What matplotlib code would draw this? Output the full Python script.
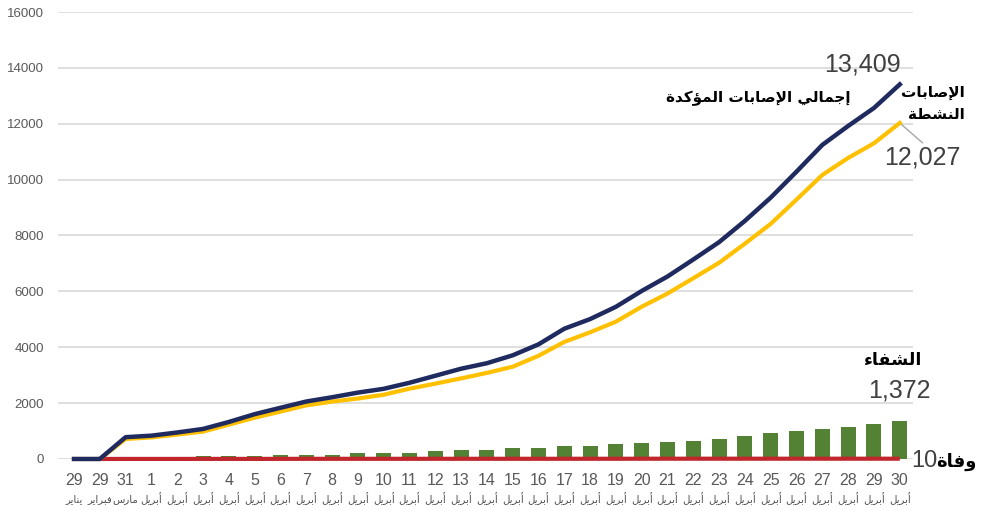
import numpy as np
import matplotlib.pyplot as plt

# Qatar COVID-19 cumulative figures
days = ['29', '29', '31'] + [str(d) for d in range(1, 31)]
months = ['يناير', 'فبراير', 'مارس'] + ['أبريل'] * 30

total = [0, 0, 781, 835, 949, 1075, 1325, 1604, 1832, 2057, 2210, 2376,
         2512, 2728, 2979, 3231, 3428, 3711, 4103, 4663, 5008, 5448, 6015,
         6533, 7141, 7764, 8525, 9358, 10287, 11244, 11921, 12564, 13409]
active = [0, 0, 717, 771, 875, 979, 1229, 1477, 1697, 1920, 2054, 2164,
          2300, 2516, 2697, 2885, 3082, 3302, 3694, 4191, 4535, 4916, 5451,
          5923, 6471, 7025, 7710, 8418, 9287, 10168, 10777, 11302, 12027]
recovered = [0, 0, 62, 62, 72, 93, 93, 123, 131, 131, 150, 206, 206, 206,
             275, 339, 339, 402, 402, 465, 465, 524, 555, 600, 660, 729, 805,
             930, 990, 1066, 1134, 1252, 1372]
deaths = [np.nan, 0, 2, 2, 2, 3, 3, 3, 4, 6, 6, 6, 6, 6, 7, 7, 7, 7, 7, 7, 8,
          8, 9, 10, 10, 10, 10, 10, 10, 10, 10, 10, 10]

# --- minimal Arabic shaping (matplotlib has no bidi / joining support) ---
FORMS = {
    # letter: (isolated, final, initial, medial)
    '\u0621': ('\uFE80', None, None, None),
    '\u0623': ('\uFE83', '\uFE84', None, None),
    '\u0624': ('\uFE85', '\uFE86', None, None),
    '\u0625': ('\uFE87', '\uFE88', None, None),
    '\u0627': ('\uFE8D', '\uFE8E', None, None),
    '\u0628': ('\uFE8F', '\uFE90', '\uFE91', '\uFE92'),
    '\u0629': ('\uFE93', '\uFE94', None, None),
    '\u062A': ('\uFE95', '\uFE96', '\uFE97', '\uFE98'),
    '\u062C': ('\uFE9D', '\uFE9E', '\uFE9F', '\uFEA0'),
    '\u062F': ('\uFEA9', '\uFEAA', None, None),
    '\u0631': ('\uFEAD', '\uFEAE', None, None),
    '\u0633': ('\uFEB1', '\uFEB2', '\uFEB3', '\uFEB4'),
    '\u0634': ('\uFEB5', '\uFEB6', '\uFEB7', '\uFEB8'),
    '\u0635': ('\uFEB9', '\uFEBA', '\uFEBB', '\uFEBC'),
    '\u0637': ('\uFEC1', '\uFEC2', '\uFEC3', '\uFEC4'),
    '\u0641': ('\uFED1', '\uFED2', '\uFED3', '\uFED4'),
    '\u0643': ('\uFED9', '\uFEDA', '\uFEDB', '\uFEDC'),
    '\u0644': ('\uFEDD', '\uFEDE', '\uFEDF', '\uFEE0'),
    '\u0645': ('\uFEE1', '\uFEE2', '\uFEE3', '\uFEE4'),
    '\u0646': ('\uFEE5', '\uFEE6', '\uFEE7', '\uFEE8'),
    '\u0648': ('\uFEED', '\uFEEE', None, None),
    '\u064A': ('\uFEF1', '\uFEF2', '\uFEF3', '\uFEF4'),
}
LAM_ALEF = {'\u0627': ('\uFEFB', '\uFEFC'),
            '\u0623': ('\uFEF7', '\uFEF8'),
            '\u0625': ('\uFEF9', '\uFEFA')}


def shape_line(text):
    toks = []
    i = 0
    while i < len(text):
        c = text[i]
        if c == '\u0644' and i + 1 < len(text) and text[i + 1] in LAM_ALEF:
            toks.append(('LA', text[i + 1]))
            i += 2
        else:
            toks.append(('C', c))
            i += 1

    def joins_next(t):
        if t[0] == 'LA':
            return False
        f = FORMS.get(t[1])
        return f is not None and f[2] is not None

    def joins_prev(t):
        if t[0] == 'LA':
            return True
        f = FORMS.get(t[1])
        return f is not None and f[1] is not None

    out = []
    for k, t in enumerate(toks):
        prev_ok = k > 0 and joins_next(toks[k - 1]) and joins_prev(t)
        next_ok = k + 1 < len(toks) and joins_next(t) and joins_prev(toks[k + 1])
        if t[0] == 'LA':
            iso, fin = LAM_ALEF[t[1]]
            out.append(fin if prev_ok else iso)
            continue
        f = FORMS.get(t[1])
        if f is None:
            out.append(t[1])
            continue
        iso, fin, ini, med = f
        if prev_ok and next_ok:
            out.append(med)
        elif prev_ok:
            out.append(fin)
        elif next_ok:
            out.append(ini)
        else:
            out.append(iso)
    return ''.join(reversed(out))


def ar(text):
    return '\n'.join(shape_line(s) for s in text.split('\n'))


NUM_FONT = ['Liberation Sans Narrow', 'DejaVu Sans Condensed', 'Liberation Sans', 'DejaVu Sans']
AR_FONT = ['DejaVu Sans']

NAVY = '#1F2A5E'
GOLD = '#FFC000'
GREEN = '#548235'
RED = '#C0262C'
GREY = '#595959'

x = np.arange(len(days))

fig = plt.figure(figsize=(9.83, 5.11), dpi=100)
ax = fig.add_axes([0.059, 0.1018, 0.87, 0.8747])

ax.bar(x, recovered, width=0.58, color=GREEN, zorder=2)
ax.plot(x, deaths, color=RED, lw=3.0, zorder=3, solid_capstyle='butt',
        clip_on=False)
ax.plot(x, active, color=GOLD, lw=3.0, zorder=4, clip_on=False)
ax.plot(x, total, color=NAVY, lw=3.2, zorder=5, clip_on=False)

ax.set_xlim(-0.62, 32.52)
ax.set_ylim(0, 16000)
ax.set_yticks(np.arange(0, 16001, 2000))
ax.yaxis.grid(True, color='#D9D9D9', lw=1.2, zorder=0)
ax.set_axisbelow(True)
for s in ax.spines.values():
    s.set_visible(False)
ax.tick_params(axis='both', length=0)
ax.tick_params(axis='y', pad=10, labelcolor=GREY)
for lab in ax.get_yticklabels():
    lab.set_family(NUM_FONT)
    lab.set_fontsize(9.5)

ax.set_xticks(x)
ax.set_xticklabels(days, family=NUM_FONT, fontsize=11.5, color=GREY)
ax.tick_params(axis='x', pad=10)
for xi, m in zip(x, months):
    ax.text(xi, -0.089, ar(m), transform=ax.get_xaxis_transform(),
            ha='center', va='center', fontsize=7.3, color='#505050',
            family=AR_FONT)

last = len(x) - 1

# value labels at the end of each series
ax.annotate(f'{total[-1]:,}', xy=(last, total[-1]), xytext=(-27, 14),
            textcoords='offset points', ha='center', va='center',
            fontsize=18, color='#404040', family=NUM_FONT)
ax.annotate(f'{active[-1]:,}', xy=(last, active[-1]), xytext=(16, -25),
            textcoords='offset points', ha='center', va='center',
            fontsize=18, color='#404040', family=NUM_FONT,
            arrowprops=dict(arrowstyle='-', color='#A6A6A6', lw=1,
                            shrinkA=0, shrinkB=1, relpos=(0.55, 1.0)))
ax.annotate(f'{recovered[-1]:,}', xy=(last, recovered[-1]), xytext=(0, 22),
            textcoords='offset points', ha='center', va='center',
            fontsize=18, color='#404040', family=NUM_FONT)
ax.annotate(f'{deaths[-1]:.0f}', xy=(last, deaths[-1]), xytext=(8, -2),
            textcoords='offset points', ha='left', va='center',
            fontsize=17, color='#404040', family=NUM_FONT)

# series names
ax.annotate(ar('إجمالي الإصابات المؤكدة'), xy=(last, total[-1]),
            xytext=(-102, -10), textcoords='offset points', ha='center',
            va='center', fontsize=11, fontweight='bold', color='black',
            family=AR_FONT)
ax.annotate(ar('الإصابات\nالنشطة'), xy=(last, total[-1]), xytext=(47, -14),
            textcoords='offset points', ha='right', va='center',
            fontsize=11, fontweight='bold', color='black', family=AR_FONT,
            linespacing=1.6)
ax.annotate(ar('الشفاء'), xy=(last, recovered[-1]), xytext=(-5, 44),
            textcoords='offset points', ha='center', va='center',
            fontsize=12.5, fontweight='bold', color='black', family=AR_FONT)
ax.annotate(ar('وفاة'), xy=(last, deaths[-1]), xytext=(26, -2),
            textcoords='offset points', ha='left', va='center',
            fontsize=13, fontweight='bold', color='black', family=AR_FONT)

fig.savefig('out.png', dpi=100)
